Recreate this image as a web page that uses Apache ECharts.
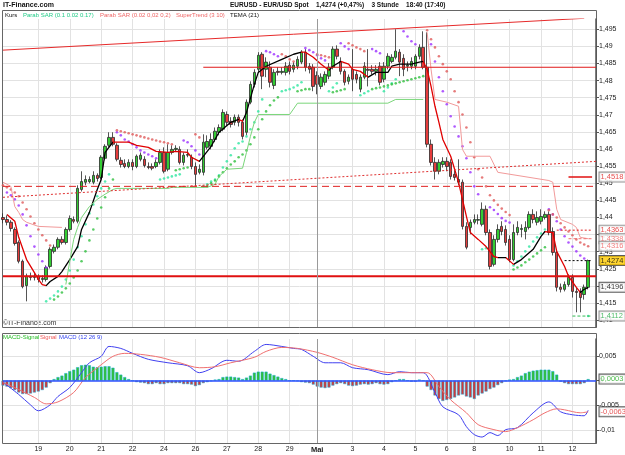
<!DOCTYPE html>
<html>
<head>
<meta charset="utf-8">
<script src="https://cdn.jsdelivr.net/npm/echarts@6/dist/echarts.min.js"></script>
<style>
html, body { margin: 0; padding: 0; background: #fff; }
#chart { width: 625px; height: 455px; }
</style>
</head>
<body>
<div id="chart"></div>
<script>
// EUR/USD 3-Stunden-Kerzen
const opens = [1.4400,1.4394,1.4386,1.4365,1.4327,1.4272,1.4201,1.4228,1.4225,1.4228,1.4219,1.4219,1.4257,1.4301,1.4313,1.4336,1.4327,1.4365,1.4394,1.4389,
  1.4482,1.4503,1.4505,1.4503,1.4523,1.4517,1.4573,1.4611,1.4634,1.4611,1.4567,1.4558,1.4549,1.4561,1.4549,1.4570,1.4570,1.4549,1.4549,1.4549,
  1.4561,1.4590,1.4541,1.4590,1.4599,1.4599,1.4561,1.4582,1.4576,1.4549,1.4532,1.4532,1.4605,1.4608,1.4628,1.4649,1.4658,1.4701,1.4681,1.4678,
  1.4693,1.4678,1.4649,1.4737,1.4789,1.4833,1.4877,1.4833,1.4839,1.4786,1.4827,1.4824,1.4824,1.4845,1.4833,1.4842,1.4854,1.4883,1.4842,1.4839,
  1.4815,1.4783,1.4795,1.4813,1.4839,1.4892,1.4856,1.4827,1.4798,1.4833,1.4818,1.4775,1.4810,1.4833,1.4833,1.4827,1.4842,1.4804,1.4842,1.4856,
  1.4868,1.4883,1.4865,1.4842,1.4842,1.4842,1.4871,1.4897,1.4839,1.4614,1.4561,1.4535,1.4555,1.4564,1.4561,1.4526,1.4511,1.4503,1.4374,1.4371,
  1.4386,1.4392,1.4380,1.4424,1.4356,1.4263,1.4336,1.4374,1.4365,1.4336,1.4277,1.4356,1.4365,1.4359,1.4371,1.4409,1.4386,1.4389,1.4400,1.4409,
  1.4359,1.4298,1.4196,1.4190,1.4204,1.4225,1.4184,1.4181,1.4175,1.4196];
const closes = [1.4394,1.4386,1.4368,1.4324,1.4272,1.4198,1.4228,1.4225,1.4228,1.4219,1.4222,1.4254,1.4307,1.4313,1.4336,1.4327,1.4365,1.4397,1.4389,1.4485,
  1.4505,1.4511,1.4511,1.4523,1.4514,1.4576,1.4608,1.4634,1.4614,1.4570,1.4555,1.4549,1.4561,1.4549,1.4579,1.4582,1.4552,1.4546,1.4544,1.4561,
  1.4590,1.4535,1.4590,1.4599,1.4602,1.4561,1.4582,1.4584,1.4549,1.4526,1.4541,1.4620,1.4622,1.4628,1.4652,1.4663,1.4707,1.4678,1.4672,1.4693,
  1.4678,1.4637,1.4737,1.4789,1.4824,1.4874,1.4813,1.4854,1.4795,1.4824,1.4824,1.4827,1.4842,1.4827,1.4845,1.4862,1.4883,1.4839,1.4833,1.4783,
  1.4789,1.4810,1.4818,1.4839,1.4892,1.4871,1.4827,1.4795,1.4810,1.4804,1.4804,1.4810,1.4842,1.4830,1.4827,1.4833,1.4795,1.4842,1.4871,1.4868,
  1.4886,1.4854,1.4833,1.4845,1.4856,1.4871,1.4897,1.4839,1.4614,1.4561,1.4535,1.4561,1.4564,1.4549,1.4520,1.4517,1.4503,1.4374,1.4313,1.4386,
  1.4394,1.4394,1.4424,1.4356,1.4257,1.4336,1.4365,1.4359,1.4327,1.4277,1.4356,1.4371,1.4368,1.4371,1.4409,1.4394,1.4400,1.4403,1.4409,1.4356,
  1.4298,1.4196,1.4190,1.4204,1.4225,1.4184,1.4181,1.4166,1.4196,1.4274];
const lows = [1.4383,1.4377,1.4359,1.4318,1.4266,1.4193,1.4155,1.4216,1.4216,1.4210,1.4210,1.4213,1.4251,1.4295,1.4307,1.4321,1.4321,1.4359,1.4383,1.4383,
  1.4476,1.4494,1.4500,1.4497,1.4505,1.4511,1.4567,1.4605,1.4608,1.4564,1.4546,1.4544,1.4544,1.4538,1.4544,1.4564,1.4546,1.4541,1.4538,1.4544,
  1.4555,1.4529,1.4535,1.4584,1.4593,1.4555,1.4552,1.4576,1.4541,1.4491,1.4526,1.4523,1.4599,1.4599,1.4620,1.4640,1.4652,1.4669,1.4663,1.4669,
  1.4666,1.4628,1.4640,1.4731,1.4780,1.4824,1.4775,1.4810,1.4780,1.4775,1.4815,1.4818,1.4815,1.4818,1.4824,1.4833,1.4848,1.4827,1.4821,1.4769,
  1.4760,1.4775,1.4786,1.4804,1.4833,1.4862,1.4818,1.4786,1.4789,1.4769,1.4792,1.4766,1.4804,1.4783,1.4818,1.4815,1.4786,1.4795,1.4833,1.4851,
  1.4862,1.4813,1.4813,1.4827,1.4833,1.4833,1.4862,1.4833,1.4605,1.4552,1.4511,1.4526,1.4546,1.4535,1.4511,1.4508,1.4494,1.4365,1.4307,1.4351,
  1.4380,1.4380,1.4374,1.4348,1.4248,1.4257,1.4327,1.4348,1.4318,1.4269,1.4272,1.4348,1.4342,1.4336,1.4365,1.4383,1.4377,1.4380,1.4394,1.4348,
  1.4289,1.4184,1.4181,1.4184,1.4198,1.4166,1.4123,1.4123,1.4160,1.4190];
const highs = [1.4412,1.4406,1.4392,1.4371,1.4333,1.4277,1.4236,1.4239,1.4239,1.4234,1.4231,1.4260,1.4313,1.4321,1.4342,1.4345,1.4371,1.4406,1.4403,1.4494,
  1.4535,1.4523,1.4520,1.4535,1.4529,1.4582,1.4614,1.4649,1.4649,1.4617,1.4576,1.4570,1.4570,1.4570,1.4584,1.4590,1.4579,1.4561,1.4558,1.4570,
  1.4599,1.4605,1.4614,1.4611,1.4611,1.4608,1.4590,1.4599,1.4584,1.4561,1.4555,1.4643,1.4640,1.4646,1.4663,1.4672,1.4716,1.4710,1.4693,1.4701,
  1.4701,1.4687,1.4745,1.4798,1.4833,1.4883,1.4883,1.4868,1.4856,1.4833,1.4839,1.4839,1.4854,1.4856,1.4854,1.4871,1.4889,1.4892,1.4851,1.4848,
  1.4827,1.4821,1.4827,1.4851,1.4900,1.4903,1.4868,1.4833,1.4818,1.4892,1.4827,1.4818,1.4854,1.4892,1.4845,1.4845,1.4854,1.4854,1.4880,1.4877,
  1.4950,1.4892,1.4877,1.4856,1.4868,1.4877,1.4906,1.4944,1.4941,1.4628,1.4576,1.4570,1.4576,1.4576,1.4570,1.4541,1.4570,1.4511,1.4386,1.4394,
  1.4409,1.4409,1.4444,1.4435,1.4365,1.4348,1.4380,1.4389,1.4377,1.4348,1.4380,1.4389,1.4380,1.4389,1.4418,1.4424,1.4418,1.4424,1.4418,1.4418,
  1.4371,1.4307,1.4207,1.4213,1.4234,1.4234,1.4196,1.4193,1.4204,1.4277];

// TEMA (21): [Kerze, Kurs]
const tema = [[1,1.4409],[3,1.4389],[4,1.4342],[6,1.4277],[8,1.4239],[9,1.4219],[10,1.4204],[11,1.4201],[12,1.4213],[14,1.4228],[15,1.4242],[17,1.4277],
  [19,1.4315],[20,1.4365],[22,1.4415],[24,1.4482],[25,1.4511],[26,1.4590],[28,1.4620],[29,1.4620],[32,1.4620],[34,1.4611],[37,1.4605],[39,1.4593],
  [42,1.4590],[44,1.4593],[47,1.4590],[48,1.4576],[50,1.4564],[53,1.4608],[55,1.4649],[58,1.4678],[60,1.4687],[61,1.4681],[62,1.4707],[64,1.4789],
  [65,1.4824],[67,1.4842],[71,1.4862],[74,1.4877],[76,1.4883],[77,1.4883],[79,1.4868],[81,1.4848],[83,1.4830],[84,1.4842],[86,1.4856],[88,1.4848],
  [89,1.4833],[91,1.4827],[93,1.4810],[95,1.4824],[98,1.4824],[99,1.4842],[101,1.4848],[104,1.4848],[106,1.4854],[107,1.4856],[108,1.4833],[109,1.4783],
  [110,1.4725],[111,1.4678],[112,1.4628],[114,1.4579],[115,1.4541],[116,1.4503],[117,1.4453],[118,1.4403],[119,1.4356],[121,1.4336],[123,1.4315],
  [125,1.4286],[126,1.4283],[128,1.4283],[130,1.4263],[132,1.4277],[135,1.4307],[137,1.4345],[138,1.4359],[140,1.4356],[141,1.4301],[143,1.4257],
  [144,1.4228],[146,1.4196],[147,1.4181],[148,1.4190],[149,1.4196]];
// Kerzenbereiche mit fallendem TEMA (rot)
const temaFalling = [[1,11],[28,50],[60,61],[76,83],[86,93],[107,126],[128,130],[138,147]];

// SuperTrend (3 10)
const superTrendAbove = [[0,1.4503],[2,1.4491],[3,1.4432],[4,1.4415],[5,1.4394],[6,1.4386],[9,1.4374],[15,1.4371],[60,'-'],
  [108,1.4941],[109,1.4833],[110,1.4745],[113,1.4737],[116,1.4725],[117,1.4599],[118,1.4579],[124,1.4579],[126,1.4532],[139,1.4508],
  [140,1.4503],[141,1.4424],[142,1.4394],[145,1.4380],[146,1.4371],[147,1.4342],[149,1.4338]];
const superTrendBelow = [[16,1.4204],[17,1.4272],[18,1.4336],[19,1.4371],[20,1.4400],[22,1.4432],[24,1.4453],[26,1.4468],[28,1.4482],[29,1.4485],
  [42,1.4485],[43,1.4488],[52,1.4488],[54,1.4497],[55,1.4520],[57,1.4541],[61,1.4544],[62,1.4590],[63,1.4637],[64,1.4678],[65,1.4701],[73,1.4701],
  [75,1.4734],[98,1.4734],[100,1.4745],[107,1.4745]];

// Parab SAR (0.1 0.02 0.17)
const fastSarAbove = [[1,1.4473],[2,1.4465],[3,1.4453],[4,1.4435],[5,1.4409],[6,1.4377],[7,1.4345],[8,1.4315],[9,1.4292],[10,1.4272],[11,1.4254],
  [29,1.4649],[30,1.4640],[31,1.4628],[32,1.4622],[33,1.4614],[34,1.4605],[35,1.4596],[36,1.4590],[37,1.4584],[38,1.4579],[39,1.4573],
  [46,1.4625],[47,1.4620],[48,1.4608],[49,1.4596],[50,1.4584],
  [67,1.4886],[68,1.4883],[69,1.4877],[70,1.4871],[77,1.4895],[78,1.4889],[79,1.4883],[80,1.4874],[81,1.4865],[82,1.4859],
  [86,1.4909],[87,1.4900],[88,1.4892],[94,1.4892],[95,1.4886],[96,1.4880],[102,1.4944],[103,1.4929],[104,1.4915],[105,1.4906],
  [109,1.4906],[110,1.4856],[111,1.4810],[112,1.4769],[113,1.4731],[114,1.4696],[115,1.4666],[116,1.4637],[117,1.4608],[118,1.4573],
  [119,1.4532],[120,1.4491],[121,1.4468],[124,1.4430],[125,1.4422],[126,1.4410],[127,1.4398],[128,1.4390],[129,1.4385],
  [139,1.4424],[140,1.4409],[141,1.4389],[142,1.4365],[143,1.4345],[144,1.4327],[145,1.4315],[146,1.4301],[147,1.4289],[148,1.4280]];
const fastSarBelow = [[11,1.4155],[12,1.4163],[13,1.4172],[14,1.4184],[15,1.4198],[16,1.4219],[17,1.4245],[18,1.4277],[19,1.4313],[20,1.4345],
  [21,1.4380],[22,1.4412],[23,1.4438],[24,1.4462],[25,1.4485],[26,1.4505],[27,1.4526],
  [40,1.4511],[41,1.4514],[42,1.4517],[43,1.4520],[44,1.4523],[45,1.4526],
  [51,1.4491],[52,1.4497],[53,1.4505],[54,1.4511],[55,1.4523],[56,1.4546],[57,1.4564],[58,1.4582],[59,1.4602],[60,1.4617],[61,1.4622],
  [62,1.4637],[63,1.4658],[64,1.4678],[65,1.4710],[66,1.4745],
  [71,1.4769],[72,1.4772],[73,1.4775],[74,1.4780],[75,1.4786],[76,1.4795],[83,1.4769],[84,1.4780],[85,1.4792],
  [91,1.4757],[92,1.4763],[93,1.4769],[97,1.4769],[98,1.4780],[99,1.4792],[100,1.4804],
  [122,1.4307],[123,1.4310],
  [130,1.4260],[131,1.4272],[132,1.4286],[133,1.4301],[134,1.4315],[135,1.4330],[136,1.4342],[137,1.4353],[138,1.4365],
  [149,1.4112]];
// Parab SAR (0.02 0,02 0,2)
const slowSarAbove = [[0,1.4494],[1,1.4488],[2,1.4482],[3,1.4473],[4,1.4462],[5,1.4444],[6,1.4424],[7,1.4403],[8,1.4383],[9,1.4365],[10,1.4348],
  [11,1.4333],[12,1.4318],
  [29,1.4655],[30,1.4652],[31,1.4649],[32,1.4646],[33,1.4643],[34,1.4640],[35,1.4637],[36,1.4634],[37,1.4631],[38,1.4628],[39,1.4625],
  [40,1.4622],[41,1.4620],[42,1.4617],[43,1.4614],[49,1.4643],[50,1.4634],
  [71,1.4877],[72,1.4871],[73,1.4862],[74,1.4856],[80,1.4877],[81,1.4874],[82,1.4871],[83,1.4868],
  [88,1.4909],[89,1.4903],[90,1.4897],[91,1.4892],[92,1.4886],
  [108,1.4947],[109,1.4921],[110,1.4897],[111,1.4871],[112,1.4848],[113,1.4827],[114,1.4804],[115,1.4769],[116,1.4737],[117,1.4701],
  [118,1.4663],[119,1.4620],[120,1.4576],[121,1.4541],[122,1.4517],[123,1.4491],[124,1.4465],[125,1.4450],[126,1.4437],[127,1.4426],
  [128,1.4416],[129,1.4407],
  [139,1.4421],[140,1.4409],[141,1.4400],[142,1.4383],[143,1.4371],[144,1.4359],[145,1.4348],[146,1.4336],[147,1.4327],[148,1.4321],[149,1.4316]];
const slowSarBelow = [[13,1.4160],[14,1.4169],[15,1.4181],[16,1.4193],[17,1.4207],[18,1.4225],[19,1.4245],[20,1.4272],[21,1.4301],[22,1.4333],
  [23,1.4365],[24,1.4397],[25,1.4429],[26,1.4459],[27,1.4485],[28,1.4511],
  [44,1.4538],[45,1.4541],[46,1.4544],[47,1.4546],
  [52,1.4491],[53,1.4500],[54,1.4508],[55,1.4520],[56,1.4532],[57,1.4544],[58,1.4555],[59,1.4564],[60,1.4576],[61,1.4584],[62,1.4596],
  [63,1.4614],[64,1.4634],[65,1.4658],[66,1.4687],[67,1.4710],[68,1.4728],[69,1.4742],[70,1.4751],
  [75,1.4769],[76,1.4772],[77,1.4775],[78,1.4775],[84,1.4766],[85,1.4769],[86,1.4772],[87,1.4775],
  [94,1.4775],[95,1.4778],[96,1.4780],[97,1.4783],[98,1.4786],[99,1.4789],[100,1.4792],[101,1.4795],[102,1.4798],[103,1.4801],
  [104,1.4804],[105,1.4807],[106,1.4810],[107,1.4813],
  [130,1.4248],[131,1.4254],[132,1.4260],[133,1.4269],[134,1.4277],[135,1.4286],[136,1.4295],[137,1.4304],[138,1.4313]];

// Trendlinien und Marken
const trendUpper = [[0,1.4889],[148,1.4982]];
const trendDotted = [[0,1.4459],[151,1.4564]];
const levelValues = [1.4228, 1.4839, 1.4491];
const levelFrom = [0, 51, 0];
const shortLineValues = [1.4518, 1.4363, 1.4338, 1.4274, 1.4112];
const shortLineFrom = [144, 141, 144, 143, 145];
const priceTags = [1.4518, 1.4363, 1.4338, 1.4316, 1.4274, 1.4196, 1.4112];

// MACD (12 26 9)
const macdHist = [-0.0010,-0.0012,-0.0015,-0.0019,-0.0024,-0.0027,-0.0027,-0.0026,-0.0024,-0.0022,-0.0019,-0.0014,-0.0005,0.0003,0.0007,
  0.0010,0.0015,0.0019,0.0022,0.0027,0.0031,0.0032,0.0031,0.0028,0.0027,0.0028,0.0029,0.0029,0.0026,0.0017,0.0012,0.0007,0.0003,0.0000,
  -0.0003,-0.0004,-0.0005,-0.0007,-0.0007,-0.0005,-0.0007,-0.0007,-0.0005,-0.0005,-0.0005,-0.0005,-0.0007,-0.0007,-0.0008,-0.0011,-0.0009,
  -0.0005,-0.0003,-0.0001,0.0002,0.0003,0.0007,0.0008,0.0008,0.0007,0.0006,0.0003,0.0006,0.0010,0.0016,0.0018,0.0018,0.0018,0.0014,0.0011,
  0.0008,0.0005,0.0003,0.0000,0.0000,-0.0001,-0.0003,-0.0004,-0.0005,-0.0008,-0.0012,-0.0014,-0.0015,-0.0014,-0.0010,-0.0007,-0.0005,-0.0007,
  -0.0010,-0.0011,-0.0010,-0.0008,-0.0007,-0.0008,-0.0007,-0.0005,-0.0007,-0.0008,-0.0007,-0.0003,0.0000,0.0003,0.0003,0.0000,-0.0002,-0.0002,
  0.0002,0.0000,-0.0012,-0.0019,-0.0030,-0.0037,-0.0041,-0.0039,-0.0037,-0.0034,-0.0030,-0.0028,-0.0032,-0.0034,-0.0037,-0.0030,-0.0026,
  -0.0022,-0.0017,-0.0014,-0.0009,-0.0005,-0.0001,0.0002,0.0003,0.0007,0.0010,0.0015,0.0018,0.0020,0.0021,0.0022,0.0022,0.0022,0.0019,0.0012,
  -0.0002,-0.0005,-0.0007,-0.0007,-0.0007,-0.0007,-0.0005,0.0003];
const macdLine = [[0,-0.0003],[4,-0.0028],[7,-0.0049],[9,-0.0061],[12,-0.0049],[14,-0.0032],[17,-0.0014],[20,0.0016],[22,0.0036],[25,0.0049],
  [27,0.0069],[30,0.0065],[33,0.0055],[37,0.0043],[42,0.0036],[47,0.0030],[50,0.0016],[53,0.0024],[57,0.0041],[60,0.0039],[64,0.0059],
  [67,0.0073],[71,0.0069],[74,0.0065],[76,0.0063],[79,0.0049],[82,0.0036],[86,0.0036],[89,0.0026],[93,0.0022],[98,0.0012],[101,0.0018],
  [104,0.0016],[107,0.0016],[110,-0.0024],[112,-0.0053],[116,-0.0069],[118,-0.0093],[120,-0.0109],[122,-0.0114],[124,-0.0105],[126,-0.0111],
  [128,-0.0099],[131,-0.0095],[135,-0.0065],[139,-0.0043],[142,-0.0063],[145,-0.0069],[148,-0.0071],[149,-0.0060]];
const signalLine = [[0,-0.0004],[4,-0.0018],[8,-0.0034],[11,-0.0047],[14,-0.0043],[18,-0.0024],[21,0.0006],[25,0.0032],[28,0.0049],[31,0.0055],
  [35,0.0053],[40,0.0047],[45,0.0036],[50,0.0026],[54,0.0028],[58,0.0036],[64,0.0047],[67,0.0059],[71,0.0067],[75,0.0065],[80,0.0057],
  [84,0.0047],[89,0.0032],[94,0.0022],[99,0.0016],[104,0.0016],[108,0.0016],[111,-0.0012],[114,-0.0039],[118,-0.0065],[121,-0.0089],
  [125,-0.0099],[128,-0.0103],[131,-0.0095],[135,-0.0079],[138,-0.0065],[141,-0.0057],[143,-0.0059],[147,-0.0065],[149,-0.0063]];
const macdTags = [0.0003, -0.0063];

// Achsen
const priceTicks = [1.41,1.415,1.42,1.425,1.43,1.435,1.44,1.445,1.45,1.455,1.46,1.465,1.47,1.475,1.48,1.485,1.49,1.495];
const macdTicks = [-0.01,-0.005,0,0.005];
const dayTickIndex = [9,17,25,33,41,49,57,65,73,80,89,97,105,113,120,129,137,145];
const dayTickText = ['19','20','21','22','24','26','27','28','29','Mai','3','4','5','6','8','10','11','12'];
const maiIndex = 80;
const slotCount = 152;

const FONT = '"Liberation Sans", Arial, sans-serif';
const categories = Array.from({ length: slotCount }, (_, i) => String(i));
const kurs = opens.map((o, i) => [o, closes[i], lows[i], highs[i]]);
const comma = v => String(v).replace('.', ',');
const fmt4 = v => v.toFixed(4).replace('.', ',');
const isDay = idx => dayTickIndex.indexOf(idx) >= 0;
const last = slotCount - 1;

// TEMA-Farben: rot fallend, schwarz steigend
const temaPieces = [];
let prev = null;
temaFalling.forEach(([a, b]) => {
  temaPieces.push(prev === null ? { gte: 0, lt: a, color: '#000' } : { gt: prev, lt: a, color: '#000' });
  temaPieces.push({ gte: a, lte: b, color: '#e00000' });
  prev = b;
});
temaPieces.push({ gt: prev, lte: last, color: '#000' });

const levelStyles = [
  { color: '#e01010', width: 2, type: 'solid' },
  { color: '#e01818', width: 1, type: 'solid' },
  { color: '#e02020', width: 1, type: [7, 4] }
];
const shortLineStyles = [
  { color: '#e01010', width: 1.5, type: 'solid' },
  { color: '#e02020', width: 1, type: [2, 2] },
  { color: '#f07070', width: 1, type: [3, 2] },
  { color: '#000', width: 1, type: [2, 2] },
  { color: '#33bb55', width: 1, type: [3, 2] }
];
const priceTagStyles = [
  { color: '#e02020', backgroundColor: '#fff', borderColor: '#777' },
  { color: '#e02020', backgroundColor: '#fff', borderColor: '#777' },
  { color: '#f06060', backgroundColor: '#fff', borderColor: '#777' },
  { color: '#f06060', backgroundColor: '#fff', borderColor: '#777' },
  { color: '#000', backgroundColor: '#ffcc00', borderColor: '#333' },
  { color: '#000', backgroundColor: '#fff', borderColor: '#333' },
  { color: '#22aa44', backgroundColor: '#fff', borderColor: '#777' }
];
const macdTagStyles = [
  { color: '#22aa22', backgroundColor: '#fff', borderColor: '#333' },
  { color: '#e03030', backgroundColor: '#fff', borderColor: '#333' }
];

const flatLine = (from, to, v, style) => ({
  type: 'line', data: [[from, v], [to, v]], showSymbol: false, silent: true, lineStyle: style
});
const levelSeries = levelValues.map((v, i) => flatLine(levelFrom[i], last, v, levelStyles[i]));
const shortSeries = shortLineValues.map((v, i) => flatLine(shortLineFrom[i], last - 1, v, shortLineStyles[i]));

const tagLabel = {
  show: true, position: 'right', distance: 3, fontSize: 7.5, fontFamily: FONT,
  padding: [1, 2, 0, 1], borderWidth: 1, formatter: p => fmt4(p.value[1])
};
const tagItems = (vals, styles) => vals.map((v, i) => ({ value: [last, v], label: styles[i] }));

const chart = echarts.init(document.getElementById('chart'));
const dotStyle = color => ({ type: 'scatter', symbol: 'circle', symbolSize: 2.6, itemStyle: { color }, silent: true });

chart.setOption({
  animation: false,
  backgroundColor: '#fff',
  textStyle: { fontFamily: FONT },
  grid: [
    { left: 3, right: 29, top: 19, height: 308 },
    { left: 3, right: 29, top: 339, height: 104 }
  ],
  xAxis: [0, 1].map(g => ({
    gridIndex: g, type: 'category', data: categories, boundaryGap: false,
    axisLine: { show: false }, axisTick: { show: false },
    splitLine: { show: true, interval: isDay, lineStyle: { color: '#e2e2e2', width: 1 } },
    axisLabel: g === 0 ? { show: false } : {
      show: true, interval: isDay, margin: 3, fontSize: 7, color: '#222',
      formatter: val => {
        const t = dayTickText[dayTickIndex.indexOf(Number(val))] || '';
        return t === 'Mai' ? '{b|Mai}' : t;
      },
      rich: { b: { fontWeight: 'bold', fontSize: 7.5, fontFamily: FONT } }
    }
  })),
  yAxis: [
    {
      gridIndex: 0, type: 'value', position: 'right', min: 1.408, max: 1.498,
      axisLine: { show: true, lineStyle: { color: '#555', width: 1.5 } },
      axisTick: { show: true, length: 3, customValues: priceTicks, lineStyle: { color: '#555' } },
      axisLabel: { customValues: priceTicks, formatter: comma, fontSize: 7, color: '#222', margin: 3 },
      splitLine: { show: true, lineStyle: { color: '#e2e2e2' } }
    },
    {
      gridIndex: 1, type: 'value', position: 'right', min: -0.0126, max: 0.0084,
      axisLine: { show: true, lineStyle: { color: '#555', width: 1.5 } },
      axisTick: { show: true, length: 3, customValues: macdTicks, lineStyle: { color: '#555' } },
      axisLabel: { customValues: macdTicks, formatter: comma, fontSize: 7, color: '#222', margin: 3 },
      splitLine: { show: true, lineStyle: { color: '#e2e2e2' } }
    }
  ],
  visualMap: [{ type: 'piecewise', show: false, seriesIndex: 1, dimension: 0, pieces: temaPieces }],
  series: [
    {
      name: 'Kurs', type: 'candlestick', xAxisIndex: 0, yAxisIndex: 0, data: kurs, barWidth: 3,
      itemStyle: { color: '#33cc33', color0: '#e63c3c', borderColor: '#2a2a2a', borderColor0: '#2a2a2a', borderWidth: 0.8 },
      markLine: {
        silent: true, symbol: ['none', 'none'], label: { show: false },
        data: [{ xAxis: maiIndex, lineStyle: { color: '#9a9a9a', width: 1, type: 'solid' } }]
      }
    },
    { name: 'TEMA (21)', type: 'line', data: tema, showSymbol: false, lineStyle: { width: 1.3 }, silent: true },
    { name: 'SuperTrend', type: 'line', data: superTrendAbove, showSymbol: false, lineStyle: { color: '#f29a9a', width: 1 }, silent: true },
    { name: 'SuperTrend+', type: 'line', data: superTrendBelow, showSymbol: false, lineStyle: { color: '#7ad67a', width: 1 }, silent: true },
    { name: 'Trend', type: 'line', data: trendUpper, showSymbol: false, lineStyle: { color: '#e62a2a', width: 1 }, silent: true },
    { name: 'Trend2', type: 'line', data: trendDotted, showSymbol: false, lineStyle: { color: '#e03030', width: 1, type: [2, 2] }, silent: true },
    Object.assign(dotStyle('#9b30ff'), { data: fastSarAbove }),
    Object.assign(dotStyle('#2ee6a0'), { data: fastSarBelow }),
    Object.assign(dotStyle('#e05a5a'), { data: slowSarAbove }),
    Object.assign(dotStyle('#2fbf3f'), { data: slowSarBelow }),
    ...levelSeries,
    ...shortSeries,
    {
      type: 'scatter', data: tagItems(priceTags, priceTagStyles), symbolSize: 1, itemStyle: { color: 'rgba(0,0,0,0)' },
      label: tagLabel, clip: false, silent: true, z: 10
    },
    {
      name: 'MACD-Signal', type: 'bar', xAxisIndex: 1, yAxisIndex: 1, data: macdHist, barWidth: 3,
      itemStyle: {
        color: p => (p.value >= 0 ? '#35c035' : '#d03a3a'),
        borderColor: p => (p.value >= 0 ? '#1d7a1d' : '#7a1d1d'), borderWidth: 0.5
      },
      markLine: {
        silent: true, symbol: ['none', 'none'], label: { show: false },
        data: [
          { xAxis: maiIndex, lineStyle: { color: '#9a9a9a', width: 1, type: 'solid' } },
          { yAxis: 0, lineStyle: { color: '#2f50ff', width: 1.5, type: 'solid' } }
        ]
      }
    },
    { name: 'MACD', type: 'line', xAxisIndex: 1, yAxisIndex: 1, data: macdLine, smooth: 0.3, showSymbol: false, lineStyle: { color: '#4040f0', width: 1 }, silent: true },
    { name: 'Signal', type: 'line', xAxisIndex: 1, yAxisIndex: 1, data: signalLine, smooth: 0.3, showSymbol: false, lineStyle: { color: '#f07070', width: 1 }, silent: true },
    {
      type: 'scatter', xAxisIndex: 1, yAxisIndex: 1, data: tagItems(macdTags, macdTagStyles), symbolSize: 1, itemStyle: { color: 'rgba(0,0,0,0)' },
      label: tagLabel, clip: false, silent: true, z: 10
    }
  ],
  graphic: [
    { type: 'rect', silent: true, shape: { x: 2.5, y: 10.5, width: 594, height: 317 }, style: { fill: 'none', stroke: '#666', lineWidth: 1 } },
    { type: 'rect', silent: true, shape: { x: 2.5, y: 333.5, width: 594, height: 110 }, style: { fill: 'none', stroke: '#666', lineWidth: 1 } },
    { type: 'text', x: 3, y: 5, style: { text: 'IT-Finance.com', font: 'bold 7px ' + FONT, fill: '#111', verticalAlign: 'middle' } },
    { type: 'text', x: 230, y: 5, style: { text: 'EURUSD - EUR/USD Spot    1,4274 (+0,47%)    3 Stunde    18:40 (17:40)', font: 'bold 6.5px ' + FONT, fill: '#111', verticalAlign: 'middle' } },
    { type: 'text', x: 5, y: 15, style: { text: 'Kurs', font: '6px ' + FONT, fill: '#111', verticalAlign: 'middle' } },
    { type: 'text', x: 23, y: 15, style: { text: 'Parab SAR (0.1 0.02 0.17)', font: '6px ' + FONT, fill: '#22cc88', verticalAlign: 'middle' } },
    { type: 'text', x: 100, y: 15, style: { text: 'Parab SAR (0.02 0,02 0,2)', font: '6px ' + FONT, fill: '#ee6666', verticalAlign: 'middle' } },
    { type: 'text', x: 176, y: 15, style: { text: 'SuperTrend (3 10)', font: '6px ' + FONT, fill: '#ee6666', verticalAlign: 'middle' } },
    { type: 'text', x: 230, y: 15, style: { text: 'TEMA (21)', font: '6px ' + FONT, fill: '#111', verticalAlign: 'middle' } },
    { type: 'text', x: 3, y: 323, style: { text: '©IT-Finance.com', font: '7px ' + FONT, fill: '#333', verticalAlign: 'middle' } },
    { type: 'text', x: 3, y: 337, style: { text: 'MACD-Signal', font: '6px ' + FONT, fill: '#22bb22', verticalAlign: 'middle' } },
    { type: 'text', x: 40, y: 337, style: { text: 'Signal', font: '6px ' + FONT, fill: '#ee5555', verticalAlign: 'middle' } },
    { type: 'text', x: 59, y: 337, style: { text: 'MACD (12 26 9)', font: '6px ' + FONT, fill: '#3344ee', verticalAlign: 'middle' } }
  ]
});
</script>
</body>
</html>
